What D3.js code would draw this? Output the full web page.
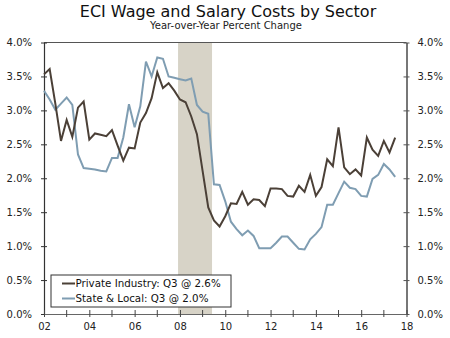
<!DOCTYPE html>
<html>
<head>
<meta charset="utf-8">
<script src="https://cdn.jsdelivr.net/npm/d3@7"></script>
<style>
  html, body { margin: 0; padding: 0; background: #fff; }
  svg text { font-family: "DejaVu Sans", Verdana, sans-serif; }
</style>
</head>
<body>
<svg id="chart" width="450" height="338"></svg>
<script>
// ---- Data ----
const title = "ECI Wage and Salary Costs by Sector";
const subtitle = "Year-over-Year Percent Change";
const startYear = 2002;          // first quarter: 2002 Q1
const privateIndustry = [
  3.53, 3.61, 3.10, 2.55, 2.86, 2.61, 3.04, 3.13, 2.57, 2.66, 2.64, 2.62, 2.71, 2.48, 2.26, 2.45,
  2.44, 2.82, 2.96, 3.18, 3.56, 3.33, 3.40, 3.29, 3.16, 3.12, 2.91, 2.65, 2.11, 1.57, 1.38, 1.29,
  1.44, 1.63, 1.62, 1.80, 1.61, 1.69, 1.68, 1.59, 1.85, 1.85, 1.84, 1.74, 1.73, 1.89, 1.80, 2.05,
  1.74, 1.87, 2.28, 2.18, 2.75, 2.16, 2.06, 2.13, 2.04, 2.60, 2.42, 2.33, 2.55, 2.38, 2.60
];
const stateLocal = [
  3.29, 3.16, 3.01, 3.10, 3.19, 3.08, 2.35, 2.15, 2.14, 2.13, 2.11, 2.10, 2.30, 2.30, 2.60, 3.09,
  2.75, 3.06, 3.72, 3.50, 3.78, 3.76, 3.50, 3.48, 3.46, 3.44, 3.47, 3.08, 2.98, 2.95, 1.91, 1.90,
  1.66, 1.36, 1.25, 1.16, 1.23, 1.15, 0.97, 0.97, 0.97, 1.05, 1.14, 1.14, 1.05, 0.96, 0.95, 1.10,
  1.18, 1.28, 1.61, 1.61, 1.78, 1.95, 1.86, 1.84, 1.74, 1.73, 1.99, 2.05, 2.21, 2.13, 2.02
];
const seriesNames = ["Private Industry: Q3 @ 2.6%", "State & Local: Q3 @ 2.0%"];
const seriesColors = ["#4b4037", "#7f9db2"];
const recession = [2007 + 11/12, 2009 + 5/12];   // Dec 2007 - Jun 2009
const xTickYears = [2002, 2004, 2006, 2008, 2010, 2012, 2014, 2016, 2018];
const xMinorYears = [2003, 2005, 2007, 2009, 2011, 2013, 2015, 2017];
const yTicks = [0, 0.5, 1, 1.5, 2, 2.5, 3, 3.5, 4];

// ---- Layout ----
const svg = d3.select("#chart");
const pL = 44, pR = 406.5, pT = 42.5, pB = 314;

const x = d3.scaleLinear().domain([2002, 2018]).range([pL, pR]);
const y = d3.scaleLinear().domain([0, 4]).range([pB, pT]);

const quarterTime = i => startYear + i / 4;

// recession shading
svg.append("rect")
  .attr("x", x(recession[0]))
  .attr("y", pT)
  .attr("width", x(recession[1]) - x(recession[0]))
  .attr("height", pB - pT)
  .attr("fill", "#d7d3c7");

// top border
svg.append("line")
  .attr("x1", pL).attr("x2", pR)
  .attr("y1", pT).attr("y2", pT)
  .attr("stroke", "#555").attr("stroke-width", 1.2);

// Left axis
const yFmt = d => d3.format(".1f")(d) + "%";
const gL = svg.append("g").attr("transform", `translate(${pL},0)`)
  .call(d3.axisLeft(y).tickValues(yTicks).tickFormat(yFmt).tickSizeInner(3).tickSizeOuter(0).tickPadding(9));
gL.select(".domain").attr("stroke", "#333").attr("stroke-width", 1.2);
gL.selectAll(".tick line").attr("stroke", "#333").attr("x2", 3).attr("x1", -3);
gL.selectAll(".tick text").attr("font-size", 10).attr("fill", "#222")
  .attr("font-family", "'DejaVu Sans', Verdana, sans-serif");

// Right axis
const gR = svg.append("g").attr("transform", `translate(${pR},0)`)
  .call(d3.axisRight(y).tickValues(yTicks).tickFormat(yFmt).tickSizeInner(3).tickSizeOuter(0).tickPadding(8));
gR.select(".domain").attr("stroke", "#777").attr("stroke-width", 2);
gR.selectAll(".tick line").attr("stroke", "#555").attr("x1", -3).attr("x2", 3);
gR.selectAll(".tick text").attr("font-size", 10).attr("fill", "#222")
  .attr("font-family", "'DejaVu Sans', Verdana, sans-serif");

// Bottom axis
const gB = svg.append("g").attr("transform", `translate(0,${pB})`)
  .call(d3.axisBottom(x).tickValues(xTickYears).tickFormat(d => String(d).slice(2))
        .tickSizeInner(3).tickSizeOuter(0).tickPadding(6));
gB.select(".domain").attr("stroke", "#666").attr("stroke-width", 1.2);
gB.selectAll(".tick line").attr("stroke", "#444").attr("y1", -4).attr("y2", 3);
gB.selectAll(".tick text").attr("font-size", 10).attr("fill", "#222")
  .attr("font-family", "'DejaVu Sans', Verdana, sans-serif");
gB.selectAll(".minor").data(xMinorYears).enter().append("line")
  .attr("x1", d => x(d)).attr("x2", d => x(d))
  .attr("y1", -4).attr("y2", 3).attr("stroke", "#444");

// Lines
const line = d3.line().x((d, i) => x(quarterTime(i))).y(d => y(d));
[stateLocal, privateIndustry].forEach((s, k) => {
  svg.append("path").datum(s)
    .attr("d", line)
    .attr("fill", "none")
    .attr("stroke", k === 0 ? seriesColors[1] : seriesColors[0])
    .attr("stroke-width", 2)
    .attr("stroke-linejoin", "miter");
});

// Legend
const lg = svg.append("g");
lg.append("rect").attr("x", 51).attr("y", 275).attr("width", 180).attr("height", 32)
  .attr("fill", "#fff").attr("stroke", "#333").attr("stroke-width", 1);
seriesNames.forEach((n, i) => {
  const cy = 283.5 + i * 15;
  lg.append("line").attr("x1", 62).attr("x2", 75).attr("y1", cy).attr("y2", cy)
    .attr("stroke", seriesColors[i]).attr("stroke-width", 2);
  lg.append("text").attr("x", 75.5).attr("y", cy).attr("dy", "0.35em")
    .attr("font-size", 10.3).attr("fill", "#111").text(n);
});

// Titles
svg.append("text").attr("x", 228).attr("y", 17).attr("text-anchor", "middle")
  .attr("font-size", 16).attr("fill", "#111").text(title);
svg.append("text").attr("x", 226).attr("y", 29).attr("text-anchor", "middle")
  .attr("font-size", 10).attr("fill", "#222").text(subtitle);
</script>
</body>
</html>
